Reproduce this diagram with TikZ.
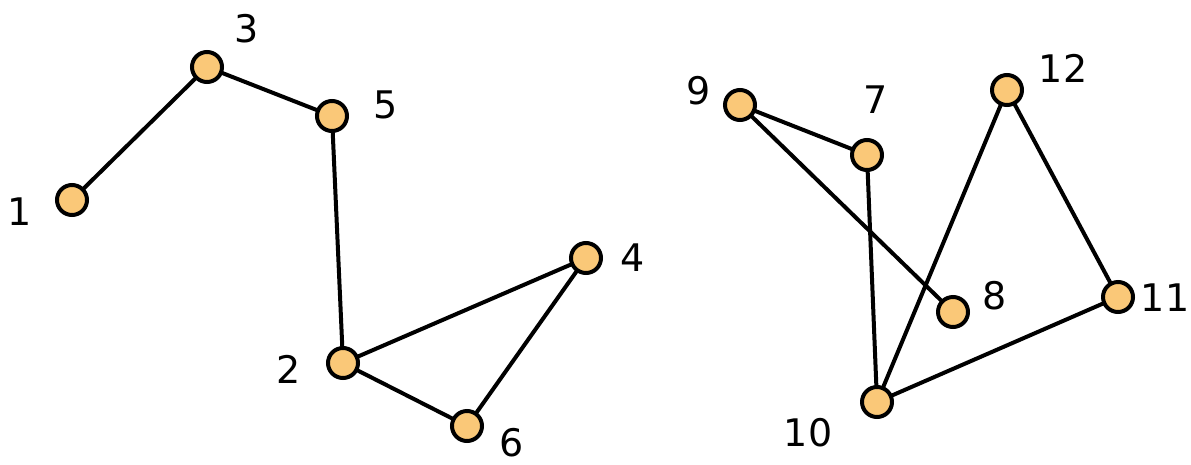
\documentclass[tikz,border=0pt]{standalone}
\usepackage{fontspec}
\setmainfont{DejaVu Sans}
\usetikzlibrary{backgrounds}
\definecolor{nodefill}{RGB}{250,200,120}
\begin{document}
\begin{tikzpicture}[x=1pt,y=-1pt,
  vtx/.style={circle,draw=black,line width=4pt,fill=nodefill,minimum size=30pt,inner sep=0pt},
  lbl/.style={font=\fontsize{38}{40}\selectfont,inner sep=0pt,anchor=center},
  edge/.style={line width=4pt,black}]
\useasboundingbox (0,0) rectangle (1191,464);
% nodes
\node[vtx] (n1) at (72,200) {};
\node[vtx] (n3) at (207,67) {};
\node[vtx] (n5) at (332,116) {};
\node[vtx] (n4) at (586,258) {};
\node[vtx] (n2) at (343,363) {};
\node[vtx] (n6) at (467,426) {};
\node[vtx] (n9) at (740,105) {};
\node[vtx] (n7) at (867,155) {};
\node[vtx] (n12) at (1007,90) {};
\node[vtx] (n8) at (953,312) {};
\node[vtx] (n11) at (1118,297) {};
\node[vtx] (n10) at (877,402) {};
% edges
\begin{scope}[on background layer]
\draw[edge] (n1.center) -- (n3.center);
\draw[edge] (n3.center) -- (n5.center);
\draw[edge] (n5.center) -- (n2.center);
\draw[edge] (n2.center) -- (n4.center);
\draw[edge] (n2.center) -- (n6.center);
\draw[edge] (n6.center) -- (n4.center);
\draw[edge] (n9.center) -- (n7.center);
\draw[edge] (n9.center) -- (n8.center);
\draw[edge] (n7.center) -- (n10.center);
\draw[edge] (n10.center) -- (n12.center);
\draw[edge] (n12.center) -- (n11.center);
\draw[edge] (n10.center) -- (n11.center);
\end{scope}
% labels
\node[lbl] (l1) at (20,212) {1};
\node[lbl] (l3) at (247,29) {3};
\node[lbl] (l5) at (386,105) {5};
\node[lbl] (l4) at (633,258) {4};
\node[lbl] (l2) at (289,369) {2};
\node[lbl] (l6) at (512,443) {6};
\node[lbl] (l9) at (699,91) {9};
\node[lbl] (l7) at (876,100) {7};
\node[lbl] (l12) at (1063,68) {12};
\node[lbl] (l8) at (995,296) {8};
\node[lbl] (l11) at (1165,298) {11};
\node[lbl] (l10) at (808,433) {10};
\end{tikzpicture}
\end{document}
